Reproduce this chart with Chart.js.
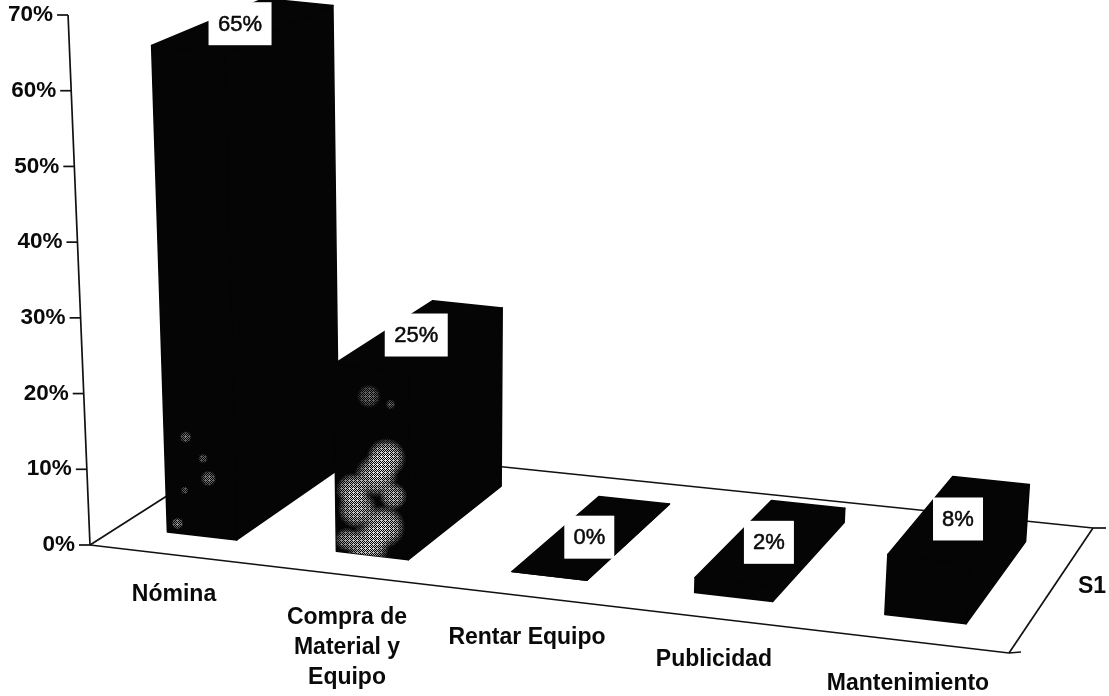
<!DOCTYPE html>
<html><head><meta charset="utf-8">
<style>html,body{margin:0;padding:0;background:#fff}canvas{display:block}</style>
<script src="https://cdn.jsdelivr.net/npm/chart.js@4"></script>
</head><body><canvas id="c" width="1109" height="696"></canvas>
<script>
const categories=[["Nómina"],["Compra de","Material y","Equipo"],["Rentar Equipo"],["Publicidad"],["Mantenimiento"]];
const seriesName="S1";
const values=[65,25,0,2,8];
const yMax=70, yStep=10;

const INK='#050505';
const FL=[90,545],FR=[1009,653],BR=[1093,528],BL=[253,441];
function homography(p0,p1,p2,p3){
  const dx1=p1[0]-p2[0],dx2=p3[0]-p2[0],sx=p0[0]-p1[0]+p2[0]-p3[0];
  const dy1=p1[1]-p2[1],dy2=p3[1]-p2[1],sy=p0[1]-p1[1]+p2[1]-p3[1];
  const den=dx1*dy2-dx2*dy1,g=(sx*dy2-dx2*sy)/den,h=(dx1*sy-sx*dy1)/den;
  const a=p1[0]-p0[0]+g*p1[0],b=p3[0]-p0[0]+h*p3[0],d=p1[1]-p0[1]+g*p1[1],e=p3[1]-p0[1]+h*p3[1];
  return (u,v)=>{const w=g*u+h*v+1;return [(a*u+b*v+p0[0])/w,(d*u+e*v+p0[1])/w];};
}
const floorMap=homography(FL,FR,BR,BL);
const V0=0.165,V1=0.83,VAN=450,LEAN=0.000115,SHR=0.07;
function project(u,v,hpx){
  const p=floorMap(u,v);
  const H=hpx*(1-SHR*v);
  return [p[0]+(p[0]-VAN)*LEAN*H,p[1]-H];
}
function poly(ctx,pts,fill){
  ctx.beginPath();pts.forEach((p,i)=>i?ctx.lineTo(p[0],p[1]):ctx.moveTo(p[0],p[1]));ctx.closePath();
  if(fill){ctx.fillStyle=fill;ctx.strokeStyle=fill;ctx.lineWidth=1.5;ctx.fill();ctx.stroke();}
}
function line(ctx,a,b){ctx.beginPath();ctx.moveTo(a[0],a[1]);ctx.lineTo(b[0],b[1]);ctx.stroke();}

// scan wear on the front faces: [position across face, position up face, radius, strength]
const wear={
  0:[[.31,.2,6,.5],[.62,.12,8,.55],[.15,.02,6,.6],[.27,.09,4,.4],[.55,.16,5,.4]],
  1:[[.71,.53,20,.95],[.57,.43,22,.9],[.24,.34,17,.85],[.8,.33,14,.8],[.3,.24,20,.85],[.66,.16,22,.95],[.44,.05,22,.9],[.15,.07,12,.7],[.48,.85,12,.45],[.78,.82,5,.4]]
};
function tile(){
  const t=document.createElement('canvas');t.width=t.height=4;const c=t.getContext('2d');
  c.fillStyle='#000';
  [[0,0],[2,0],[1,1],[3,1],[0,2],[2,2],[1,3],[3,3],[1,0]].forEach(p=>c.fillRect(p[0],p[1],1,1));
  return t;
}
function drawWear(ctx,list,fb0,fb1,ft0){
  const off=document.createElement('canvas');off.width=1109;off.height=696;const o=off.getContext('2d');
  list.forEach(b=>{
    const x=fb0[0]+(fb1[0]-fb0[0])*b[0]+(ft0[0]-fb0[0])*b[1],y=fb0[1]+(ft0[1]-fb0[1])*b[1]+(fb1[1]-fb0[1])*b[0];
    const g=o.createRadialGradient(x,y,1,x,y,b[2]);
    g.addColorStop(0,'rgba(255,255,255,'+b[3]+')');g.addColorStop(.6,'rgba(255,255,255,'+b[3]*.7+')');g.addColorStop(1,'rgba(255,255,255,0)');
    o.fillStyle=g;o.fillRect(x-b[2],y-b[2],b[2]*2,b[2]*2);
  });
  o.globalCompositeOperation='destination-in';
  o.fillStyle=o.createPattern(tile(),'repeat');o.fillRect(0,0,1109,696);
  ctx.save();poly(ctx,[fb0,fb1,[fb1[0],ft0[1]],ft0]);ctx.clip();ctx.drawImage(off,0,0);ctx.restore();
}

const scene3d={
  id:'scene3d',
  afterDatasetsDraw(chart){
    const ctx=chart.ctx,ca=chart.chartArea,ys=chart.scales.y,xs=chart.scales.x;
    const W=ca.right-ca.left,zero=ys.getPixelForValue(0);
    ctx.save();
    ctx.lineJoin='round';
    ctx.strokeStyle='#111';ctx.lineWidth=1.7;
    line(ctx,FL,FR);line(ctx,FR,BR);line(ctx,BR,BL);line(ctx,BL,FL);
    line(ctx,BR,[BR[0]+13,BR[1]]);line(ctx,FR,[FR[0]+12,FR[1]-1]);
    line(ctx,project(0,0,0),project(0,0,zero-ys.getPixelForValue(yMax)));
    ctx.fillStyle='#0a0a0a';ctx.textBaseline='middle';ctx.textAlign='right';
    ctx.font='bold 22.5px "Liberation Sans"';
    ys.ticks.forEach(t=>{
      const p=project(0,0,zero-ys.getPixelForValue(t.value));
      line(ctx,p,[p[0]-11,p[1]]);
      ctx.fillText(t.value+'%',p[0]-15,p[1]);
    });
    const meta=chart.getDatasetMeta(0);
    const tops=[];
    meta.data.forEach((el,i)=>{
      const u0=(el.x-el.width/2-ca.left)/W,u1=(el.x+el.width/2-ca.left)/W;
      const h=zero-el.y;
      const fb0=project(u0,V0,0),fb1=project(u1,V0,0),bb1=project(u1,V1,0),bb0=project(u0,V1,0);
      const ft0=project(u0,V0,h),ft1=project(u1,V0,h),bt1=project(u1,V1,h),bt0=project(u0,V1,h);
      poly(ctx,[fb1,bb1,bt1,ft1],INK);
      poly(ctx,[fb0,fb1,ft1,ft0],INK);
      poly(ctx,[ft0,ft1,bt1,bt0],INK);
      if(wear[i])drawWear(ctx,wear[i],fb0,fb1,ft0);
      tops.push(project((u0+u1)/2,(V0+V1)/2-0.03,h));
    });
    ctx.textAlign='center';ctx.font='22px "Liberation Sans"';
    ctx.strokeStyle='#0a0a0a';ctx.lineWidth=0.5;
    values.forEach((v,i)=>{
      const c=tops[i],s=v+'%',w=s.length>2?63:50,hh=43;
      const cy=c[1]-3;
      ctx.fillStyle='#fff';ctx.fillRect(c[0]-w/2,cy-hh/2,w,hh);
      ctx.fillStyle='#0a0a0a';ctx.fillText(s,c[0],cy+1);ctx.strokeText(s,c[0],cy+1);
    });
    ctx.font='bold 23px "Liberation Sans"';
    const catAt=[[174,595],[347,618],[527,638],[714,660],[908,684]];
    xs.getLabels().forEach((lab,i)=>{
      const lines=Array.isArray(lab)?lab:[lab];
      lines.forEach((s,k)=>ctx.fillText(s,catAt[i][0],catAt[i][1]+k*30));
    });
    ctx.textAlign='left';
    ctx.fillText(seriesName,1078,587);
    ctx.restore();
  }
};
new Chart(document.getElementById('c'),{
  type:'bar',
  data:{labels:categories,datasets:[{label:seriesName,data:values,backgroundColor:'transparent',borderWidth:0,barPercentage:1,categoryPercentage:0.415}]},
  options:{
    responsive:false,animation:false,
    layout:{padding:{left:90,right:100,top:15,bottom:151}},
    plugins:{legend:{display:false},tooltip:{enabled:false}},
    scales:{
      x:{display:false},
      y:{display:false,min:0,max:yMax,ticks:{stepSize:yStep}}
    }
  },
  plugins:[scene3d]
});
</script></body></html>
